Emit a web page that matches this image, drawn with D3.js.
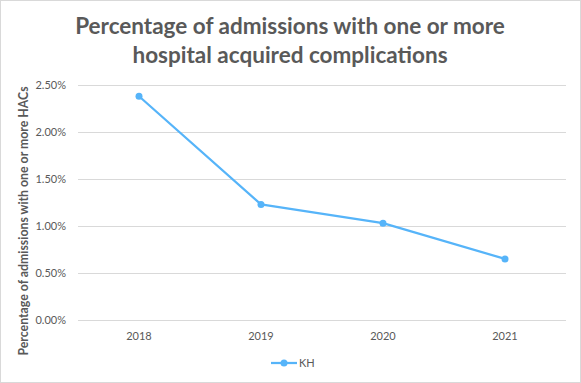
<!DOCTYPE html>
<html>
<head>
<meta charset="utf-8">
<script src="https://cdn.jsdelivr.net/npm/d3@7.9.0/dist/d3.min.js"></script>
<style>
  body { margin: 0; background: #fff; }
  svg { display: block; font-family: Lato, "Open Sans", sans-serif; }
</style>
</head>
<body>
<svg id="chart" width="581" height="383"></svg>
<script>
const years = ['2018', '2019', '2020', '2021'];
const khValues = [0.0238, 0.0123, 0.0103, 0.0065];
const yTicks = [0, 0.005, 0.01, 0.015, 0.02, 0.025];
const titleLines = ['Percentage of admissions with one or more', 'hospital acquired complications'];
const yLabel = 'Percentage of admissions with one or more HACs';
const seriesName = 'KH';

const width = 581, height = 383;
const margin = { top: 85, right: 15, bottom: 63, left: 78 };
const lineColor = '#56b4f9';
const textColor = '#595959';

const svg = d3.select('#chart');

// outer border
svg.append('rect')
  .attr('x', 0.5).attr('y', 0.5)
  .attr('width', width - 1).attr('height', height - 1)
  .attr('fill', '#fff').attr('stroke', '#d9d9d9');

let x = d3.scaleBand()
  .domain(years)
  .range([margin.left, width - margin.right]);

let y = d3.scaleLinear()
  .domain([0, 0.025])
  .range([height - margin.bottom, margin.top]);

// gridlines
svg.append('g')
  .selectAll('line')
  .data(yTicks)
  .join('line')
  .attr('x1', margin.left).attr('x2', width - margin.right)
  .attr('y1', (d) => y(d)).attr('y2', (d) => y(d))
  .attr('stroke', '#d9d9d9').attr('stroke-width', 1)
  .attr('shape-rendering', 'crispEdges');

// y axis labels
let yAxis = svg.append('g')
  .attr('transform', `translate(${margin.left - 12},0)`)
  .call(d3.axisLeft(y).tickValues(yTicks).tickFormat(d3.format('.2%')).tickSize(0));
yAxis.select('.domain').remove();
yAxis.selectAll('text')
  .attr('fill', textColor).attr('font-size', 11).attr('dy', '0.35em').attr('x', 0)
  .attr('font-family', 'Lato, sans-serif');

// x axis labels
let xAxis = svg.append('g')
  .attr('transform', `translate(0,${height - margin.bottom})`)
  .call(d3.axisBottom(x).tickSize(0));
xAxis.select('.domain').remove();
xAxis.selectAll('text')
  .attr('fill', textColor).attr('font-size', 11).attr('y', 12)
  .attr('font-family', 'Lato, sans-serif');

// line + markers
let points = years.map((yr, i) => ({ year: yr, value: khValues[i] }));

let line = d3.line()
  .x((d) => x(d.year) + x.bandwidth() / 2)
  .y((d) => y(d.value));

svg.append('path')
  .datum(points)
  .attr('d', line)
  .attr('fill', 'none')
  .attr('stroke', lineColor)
  .attr('stroke-width', 2.25)
  .attr('stroke-linejoin', 'round');

svg.append('g')
  .selectAll('circle')
  .data(points)
  .join('circle')
  .attr('cx', (d) => x(d.year) + x.bandwidth() / 2)
  .attr('cy', (d) => y(d.value))
  .attr('r', 3.5)
  .attr('fill', lineColor);

// title
svg.append('text')
  .attr('text-anchor', 'middle')
  .attr('fill', textColor)
  .attr('font-size', 22.5)
  .attr('font-weight', 'bold')
  .selectAll('tspan')
  .data(titleLines)
  .join('tspan')
  .attr('x', 290)
  .attr('y', (d, i) => 34 + i * 29)
  .text((d) => d);

// y axis title
svg.append('text')
  .attr('transform', `translate(28,${(margin.top + 357) / 2}) rotate(-90)`)
  .attr('text-anchor', 'middle')
  .attr('fill', textColor)
  .attr('font-size', 12.3)
  .attr('font-weight', 'bold')
  .text(yLabel);

// legend
let legend = svg.append('g').attr('transform', 'translate(271,363)');
legend.append('line')
  .attr('x1', 0).attr('x2', 26)
  .attr('stroke', lineColor).attr('stroke-width', 2.25);
legend.append('circle')
  .attr('cx', 13).attr('r', 3.5).attr('fill', lineColor);
legend.append('text')
  .attr('x', 28).attr('dy', '0.35em')
  .attr('fill', textColor).attr('font-size', 11)
  .text(seriesName);
</script>
</body>
</html>
